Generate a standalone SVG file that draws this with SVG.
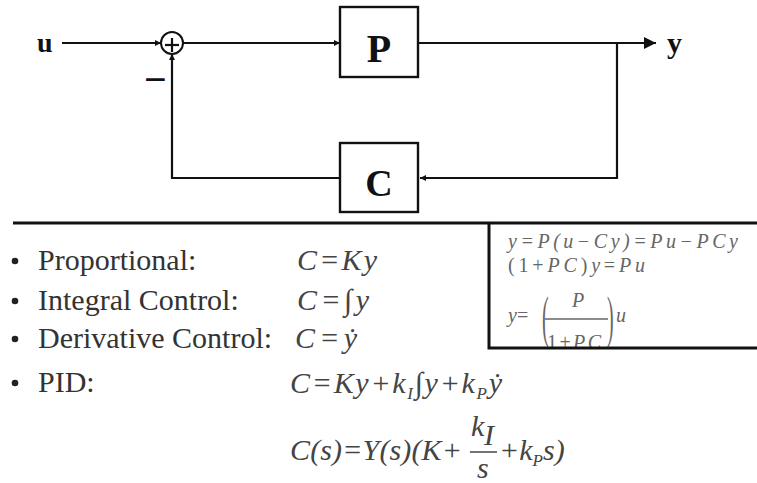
<svg xmlns="http://www.w3.org/2000/svg" width="757" height="483" viewBox="0 0 757 483">
<style>
.ln{stroke:#111;stroke-width:2.2;fill:none}
.box{stroke:#111;stroke-width:2.4;fill:#fff}
.lbl{font-family:"Liberation Serif","Times New Roman",serif;font-weight:bold;fill:#111}
.txt{font-family:"Liberation Serif","Times New Roman",serif;font-size:30px;fill:#333}
.eq{font-family:"Liberation Serif","Times New Roman",serif;font-style:italic;font-size:30px;fill:#444}
.beq{font-family:"Liberation Serif","Times New Roman",serif;font-style:italic;font-size:20px;fill:#666}
.up{font-style:normal}
</style>
<defs>
<marker id="ah" viewBox="0 0 10 10" refX="10" refY="5" markerWidth="6" markerHeight="6" markerUnits="userSpaceOnUse" orient="auto">
<path d="M0,0 L10,5 L0,10 z" fill="#111"/>
</marker>
<marker id="ahb" viewBox="0 0 10 10" refX="10" refY="5" markerWidth="14" markerHeight="12" markerUnits="userSpaceOnUse" orient="auto">
<path d="M0,0 L10,5 L0,10 z" fill="#111"/>
</marker>
</defs>
<rect width="757" height="483" fill="#fff"/>

<g id="connectors">
<line class="ln" x1="62" y1="43" x2="161" y2="43" marker-end="url(#ah)"/>
<line class="ln" x1="183" y1="43" x2="340" y2="43" marker-end="url(#ah)"/>
<line class="ln" x1="418" y1="43" x2="656" y2="43" marker-end="url(#ahb)"/>
<polyline class="ln" points="617,43 617,178 420,178" marker-end="url(#ah)"/>
<polyline class="ln" points="340,178 172,178 172,54" marker-end="url(#ah)"/>
</g>

<g id="u"><text class="lbl" x="37" y="52" font-size="28">u</text></g>
<g id="sum">
<circle cx="172" cy="43" r="11" fill="#fff" stroke="#111" stroke-width="2"/>
<line class="ln" x1="165" y1="45" x2="179" y2="45"/>
<line class="ln" x1="172" y1="38" x2="172" y2="52"/>
</g>
<g id="minus"><text class="lbl" x="144" y="93" font-size="40">−</text></g>
<g id="P">
<rect class="box" x="340" y="7" width="78" height="70"/>
<text class="lbl" x="379" y="62" font-size="40" text-anchor="middle">P</text>
</g>
<g id="C">
<rect class="box" x="340" y="143" width="78" height="69"/>
<text class="lbl" x="379" y="196" font-size="38" text-anchor="middle">C</text>
</g>
<g id="y"><text class="lbl" x="667" y="53" font-size="30">y</text></g>

<line x1="13" y1="223" x2="757" y2="223" stroke="#111" stroke-width="3"/>

<g id="list">
<circle cx="15" cy="261" r="3.3" fill="#222"/>
<circle cx="15" cy="301" r="3.3" fill="#222"/>
<circle cx="15" cy="339" r="3.3" fill="#222"/>
<circle cx="15" cy="383" r="3.3" fill="#222"/>
<text class="txt" x="38" y="270">Proportional:</text>
<text class="txt" x="38" y="310">Integral Control:</text>
<text class="txt" x="38" y="348">Derivative Control:</text>
<text class="txt" x="38" y="392">PID:</text>
<text class="eq" x="297" y="270" textLength="80" lengthAdjust="spacing">C=Ky</text>
<text class="eq" x="297" y="310" textLength="72" lengthAdjust="spacing">C=∫y</text>
<text class="eq" x="295" y="348" textLength="62" lengthAdjust="spacing">C=ẏ</text>
<text class="eq" x="290" y="393" textLength="212" lengthAdjust="spacing">C=Ky+k<tspan font-size="17" dy="6">I</tspan><tspan dy="-6">∫y+k</tspan><tspan font-size="17" dy="6">P</tspan><tspan dy="-6">ẏ</tspan></text>
<text class="eq" x="290" y="460" textLength="172" lengthAdjust="spacing">C(s)=Y(s)(K+</text>
<text class="eq" x="471" y="436">k</text>
<text class="eq" x="484" y="445" font-size="15">I</text>
<line x1="470" y1="452" x2="497" y2="452" stroke="#444" stroke-width="1.5"/>
<text class="eq" x="477" y="478">s</text>
<text class="eq" x="499" y="460">+k<tspan font-size="17" dy="6">P</tspan><tspan dy="-6">s)</tspan></text>
</g>

<g id="derivation">
<text class="beq" x="508" y="248" textLength="230" lengthAdjust="spacing">y=P(u−Cy)=Pu−PCy</text>
<text class="beq" x="508" y="272" textLength="137" lengthAdjust="spacing"><tspan class="up">(1+</tspan>PC<tspan class="up">)</tspan>y<tspan class="up">=</tspan>Pu</text>
<text class="beq" x="508" y="322">y<tspan class="up">=</tspan></text>
<text class="beq up" x="0" y="0" transform="translate(542,336) scale(1,2.8)" font-size="21">(</text>
<text class="beq" x="572" y="307">P</text>
<line x1="545" y1="319" x2="608" y2="319" stroke="#666" stroke-width="1.3"/>
<text class="beq" x="547" y="349" textLength="54" lengthAdjust="spacing"><tspan class="up">1+</tspan>PC</text>
<text class="beq up" x="0" y="0" transform="translate(607,336) scale(1,2.8)" font-size="21">)</text>
<text class="beq" x="616" y="322">u</text>
</g>

<path d="M489,223 V348 H757" fill="none" stroke="#111" stroke-width="3"/>
</svg>
